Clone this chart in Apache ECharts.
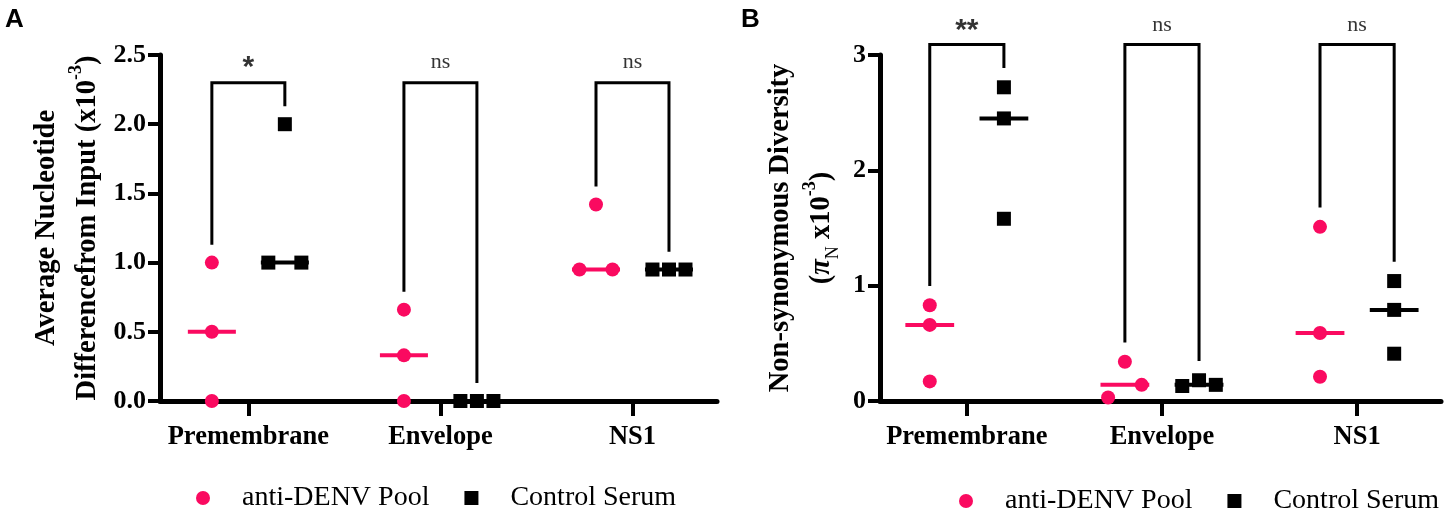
<!DOCTYPE html>
<html><head><meta charset="utf-8">
<script src="https://cdn.jsdelivr.net/npm/echarts@6/dist/echarts.min.js"></script>
<style>html,body{margin:0;padding:0;background:#fff}#c{width:1446px;height:518px}</style>
</head><body><div id="c"></div>
<script>
// ---------------- data ----------------
const categories = ['Premembrane', 'Envelope', 'NS1'];
const groups = ['anti-DENV Pool', 'Control Serum'];
// Panel A: Average nucleotide difference from input (x10^-3)
const ntdAnti    = [[1.00, 0.50, 0.00], [0.66, 0.33, 0.00], [1.42, 0.95, 0.95]];
const ntdControl = [[2.00, 1.00, 1.00], [0.00, 0.00, 0.00], [0.95, 0.95, 0.95]];
const sigA = ['*', 'ns', 'ns'];
const yTicksA = [0, 0.5, 1.0, 1.5, 2.0, 2.5];
// Panel B: Non-synonymous diversity (piN x10^-3)
const piAnti    = [[0.83, 0.66, 0.17], [0.34, 0.14, 0.03], [1.51, 0.59, 0.21]];
const piControl = [[2.72, 2.45, 1.58], [0.13, 0.18, 0.14], [1.04, 0.79, 0.41]];
const sigB = ['**', 'ns', 'ns'];
const yTicksB = [0, 1, 2, 3];

// ---------------- layout / style ----------------
// side-by-side jitter pattern of overlapping points (-1 left, 0 centre, +1 right)
const jitA = { anti: [[0,0,0],[0,0,0],[0,-1,1]], ctrl: [[0,-1,1],[-1,0,1],[-1,0,1]] };
const jitB = { anti: [[0,0,0],[0,1,-1],[0,0,0]], ctrl: [[0,0,0],[-1,0,1],[0,0,0]] };
const GROUP_OFF = 0.19, JIT = 0.086, MED_HALF = 0.125;
const PINK = '#FA0A60', BLACK = '#000';
const SERIF = '"Liberation Serif","Times New Roman",serif';
const SANS = '"Liberation Sans",Arial,sans-serif';

function median(a) { const s = [...a].sort((x, y) => x - y); const n = s.length;
  return n % 2 ? s[(n - 1) / 2] : (s[n / 2 - 1] + s[n / 2]) / 2; }

function panelSeries(gi, anti, ctrl, jit, sig, bracketTop, bracketGap, sigY) {
  const out = [];
  const groupsData = [[anti, jit.anti, -GROUP_OFF, PINK, 'circle', groups[0]],
                      [ctrl, jit.ctrl, GROUP_OFF, BLACK, 'rect', groups[1]]];
  groupsData.forEach(([vals, jj, off, col, sym, name]) => {
    const pts = [];
    vals.forEach((arr, ci) => arr.forEach((v, k) => pts.push([ci + 1 + off + jj[ci][k] * JIT, v])));
    vals.forEach((arr, ci) => {
      const m = median(arr), c = ci + 1 + off;
      out.push({ type: 'line', xAxisIndex: gi, yAxisIndex: gi, symbol: 'none', silent: true, z: 2,
        data: [[c - MED_HALF, m], [c + MED_HALF, m]], lineStyle: { color: col, width: 4 } });
    });
    out.push({ type: 'scatter', name, xAxisIndex: gi, yAxisIndex: gi, symbol: sym, symbolSize: 14,
      itemStyle: { color: col, opacity: 1 }, z: 3, data: pts });
  });
  categories.forEach((cat, ci) => {
    const xl = ci + 1 - GROUP_OFF, xr = ci + 1 + GROUP_OFF;
    const eL = Math.max(...anti[ci]) + bracketGap, eR = Math.max(...ctrl[ci]) + bracketGap;
    out.push({ type: 'line', xAxisIndex: gi, yAxisIndex: gi, symbol: 'none', silent: true, clip: false, z: 1,
      data: [[xl, eL], [xl, bracketTop], [xr, bracketTop], [xr, eR]],
      lineStyle: { color: BLACK, width: 3, cap: 'square', join: 'miter' } });
  });
  out.push({ type: 'scatter', xAxisIndex: gi, yAxisIndex: gi, symbolSize: 1, silent: true, clip: false,
    itemStyle: { color: 'rgba(0,0,0,0)' },
    data: sig.map((s, ci) => {
      const star = s.indexOf('*') >= 0;
      return { value: [ci + 1, sigY], name: s,
        label: { show: true, position: 'inside', formatter: s, color: '#000',
          fontFamily: star ? SANS : SERIF,
          fontWeight: star ? 'bold' : 'normal', fontSize: star ? 30 : 22,
          offset: star ? [0, 6] : [0, 0] } };
    }) });
  return out;
}

const axisLbl = { fontFamily: SERIF, fontWeight: 'bold', color: '#000' };
function xAxis(gi, min, max) {
  return { type: 'value', gridIndex: gi, min, max,
    axisLine: { show: true, onZero: false, lineStyle: { color: '#000', width: 5 } },
    axisTick: { show: true, customValues: [1, 2, 3], length: 15, lineStyle: { color: '#000', width: 4 } },
    axisLabel: { ...axisLbl, fontSize: 26.5, margin: 23, customValues: [1, 2, 3],
      formatter: v => categories[Math.round(v) - 1] || '' },
    splitLine: { show: false } };
}
function yAxis(gi, ticks, fmt, name, nameGap, rich) {
  return { type: 'value', gridIndex: gi, min: ticks[0], max: ticks[ticks.length - 1],
    interval: ticks[1] - ticks[0],
    axisLine: { show: true, onZero: false, lineStyle: { color: '#000', width: 5 } },
    axisTick: { show: true, length: 12, lineStyle: { color: '#000', width: 4 } },
    axisLabel: { ...axisLbl, fontSize: 26, margin: 14, formatter: fmt },
    splitLine: { show: false },
    name, nameLocation: 'middle', nameRotate: 90, nameGap,
    nameTextStyle: { rich } };
}
const titleRich = {
  t: { fontFamily: SERIF, fontWeight: 'bold', fontSize: 28.5, lineHeight: 41, color: '#000' },
  sup: { fontFamily: SERIF, fontWeight: 'bold', fontSize: 18, lineHeight: 24, verticalAlign: 'top', color: '#000' },
  sub: { fontFamily: SERIF, fontWeight: 'normal', fontSize: 18, lineHeight: 20, verticalAlign: 'bottom', color: '#000' },
  pi: { fontFamily: SERIF, fontWeight: 'bold', fontStyle: 'italic', fontSize: 28.5, lineHeight: 41, color: '#000' }
};

const legendBase = (left, top) => ({ left, top, padding: 0, orient: 'horizontal',
  itemWidth: 14, itemHeight: 14, itemGap: 35,
  formatter: n => '{p| }{n|' + n + '}',
  textStyle: { fontFamily: SERIF, fontSize: 28, color: '#000', lineHeight: 30,
    rich: { p: { width: 27, fontSize: 28, lineHeight: 30 }, n: { fontFamily: SERIF, fontSize: 28, color: '#000', lineHeight: 30 } } },
  data: [{ name: groups[0], icon: 'circle' }, { name: groups[1], icon: 'rect' }] });

const chart = echarts.init(document.getElementById('c'), null, { renderer: 'canvas' });
chart.setOption({
  animation: false,
  backgroundColor: '#fff',
  title: [
    { text: 'A', left: 0, top: 2, textStyle: { fontFamily: SANS, fontWeight: 'bold', fontSize: 26, color: '#000' } },
    { text: 'B', left: 736, top: 2, textStyle: { fontFamily: SANS, fontWeight: 'bold', fontSize: 26, color: '#000' } }
  ],
  legend: [legendBase(196, 483), legendBase(959, 486)],
  grid: [
    { left: 160, right: 729, top: 55, bottom: 117 },
    { left: 880, right: 5, top: 55, bottom: 117 }
  ],
  xAxis: [xAxis(0, 0.54, 3.44), xAxis(1, 0.555, 3.43)],
  yAxis: [
    yAxis(0, yTicksA, v => v.toFixed(1),
      '{t|Average Nucleotide}\n{t|Differencefrom Input (x10}{sup|-3}{t|)}', 52, titleRich),
    yAxis(1, yTicksB, v => String(v),
      '{t|Non-synonymous Diversity}\n{t|(}{pi|π}{sub|N}{t| x10}{sup|-3}{t|)}', 38, titleRich)
  ],
  series: [
    ...panelSeries(0, ntdAnti, ntdControl, jitA, sigA, 2.30, 0.14, 2.45),
    ...panelSeries(1, piAnti, piControl, jitB, sigB, 3.09, 0.18, 3.26)
  ]
});
</script></body></html>
